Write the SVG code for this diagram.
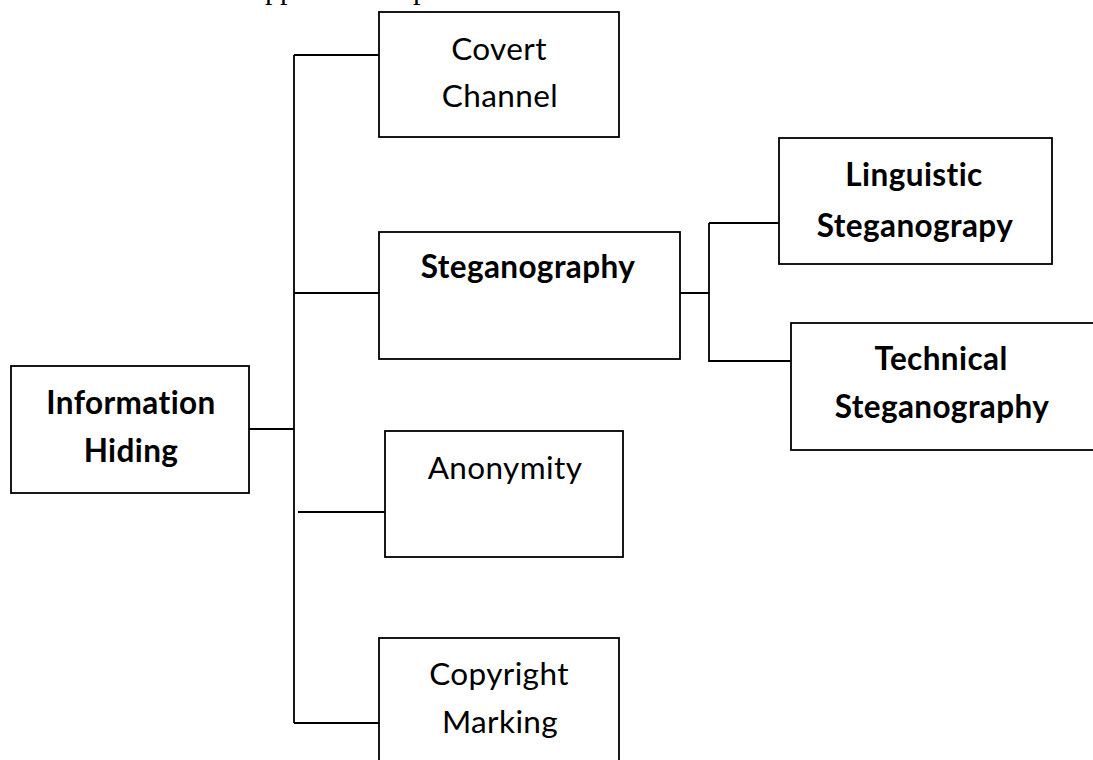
<svg xmlns="http://www.w3.org/2000/svg" width="1093" height="760" viewBox="0 0 1093 760">
<style>
.box{fill:#fff;stroke:#000;stroke-width:1.8}
.ln{fill:none;stroke:#000;stroke-width:1.8}
.t{font-family:Lato,"Liberation Sans",sans-serif;font-size:31.5px;letter-spacing:0.4px;fill:#000;text-anchor:middle}
.b{font-weight:bold}
.s{font-family:"Liberation Serif",serif;font-size:30px;fill:#000}
</style>
<rect width="1093" height="760" fill="#fff"/>
<text class="s" x="265" y="-1">pp</text>
<text class="s" x="413" y="-1">p</text>
<g id="connectors">
<path class="ln" d="M249 429H294M294 55V723M294 55H379M294 293H379M298 512H385M294 723H379"/>
<path class="ln" d="M680 293H709M709 223V362M709 223H779M709 361H791"/>
</g>
<g id="info-hiding">
<rect class="box" x="11" y="366" width="238" height="127"/>
<text class="t b" x="131" y="414">Information</text>
<text class="t b" x="131" y="462">Hiding</text>
</g>
<g id="covert-channel">
<rect class="box" x="379" y="12" width="240" height="125"/>
<text class="t" x="499" y="60">Covert</text>
<text class="t" x="500" y="107">Channel</text>
</g>
<g id="steganography">
<rect class="box" x="379" y="232" width="301" height="127"/>
<text class="t b" x="528" y="278">Steganography</text>
</g>
<g id="linguistic">
<rect class="box" x="779" y="138" width="273" height="126"/>
<text class="t b" x="914" y="186">Linguistic</text>
<text class="t b" x="915" y="237">Steganograpy</text>
</g>
<g id="technical">
<rect class="box" x="791" y="323" width="310" height="127"/>
<text class="t b" x="941" y="370">Technical</text>
<text class="t b" x="942" y="418">Steganography</text>
</g>
<g id="anonymity">
<rect class="box" x="385" y="431" width="238" height="126"/>
<text class="t" x="505" y="479">Anonymity</text>
</g>
<g id="copyright">
<rect class="box" x="379" y="638" width="240" height="140"/>
<text class="t" x="499" y="685">Copyright</text>
<text class="t" x="500" y="733">Marking</text>
</g>
</svg>
